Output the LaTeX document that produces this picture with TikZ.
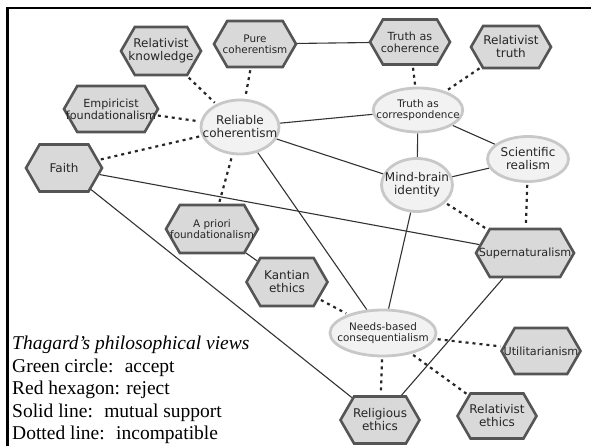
\documentclass[tikz,border=0pt]{standalone}
\usepackage{fontspec}
\setmainfont{Liberation Serif}
\newfontfamily\labelfont{DejaVu Sans}
\usetikzlibrary{shapes.geometric,shapes.symbols,backgrounds}
\definecolor{hexfill}{HTML}{D9D9D9}
\definecolor{hexline}{HTML}{555555}
\definecolor{ellfill}{HTML}{F2F2F2}
\definecolor{ellline}{HTML}{C8C8C8}
\tikzset{
  reject/.style={shape=signal,signal to=west and east,signal pointer angle=120,fill=hexfill,draw=hexline,line width=2.6pt,inner ysep=0pt,inner xsep=-12pt,align=center,text=black!85},
  accept/.style={ellipse,fill=ellfill,draw=ellline,line width=2.8pt,inner ysep=0pt,inner xsep=-10pt,align=center,text=black!85},
  big/.style={font=\labelfont\fontsize{12}{13}\selectfont},
  mid/.style={font=\labelfont\fontsize{11.2}{12.2}\selectfont},
  small/.style={font=\labelfont\fontsize{10.4}{11.4}\selectfont},
  support/.style={line width=1.1pt,draw=black!80},
  incompat/.style={line width=2.2pt,dash pattern=on 3pt off 4pt,draw=black!85,shorten <=2pt,shorten >=2pt}
}
\begin{document}
\begin{tikzpicture}[x=1pt,y=-1pt]
\useasboundingbox (0,0) rectangle (591,446);
%frame
\draw[line width=2.7pt] (7.3,446)--(7.3,8)--(591,8);
%rejected views
\node[reject,big,minimum width=80pt,minimum height=48pt] (rk) at (161,51) {Relativist\\knowledge};
\node[reject,small,minimum width=82pt,minimum height=46pt] (pc) at (255,44) {Pure\\coherentism};
\node[reject,mid,minimum width=80pt,minimum height=45pt] (tcoh) at (410,42) {Truth as\\coherence};
\node[reject,big,minimum width=80pt,minimum height=42pt] (rt) at (511,47) {Relativist\\truth};
\node[reject,mid,minimum width=94pt,minimum height=46pt] (ef) at (111,109) {Empiricist\\foundationalism};
\node[reject,big,minimum width=76pt,minimum height=47pt] (faith) at (64,168) {Faith};
\node[reject,small,minimum width=92pt,minimum height=48pt] (apf) at (212,229) {A priori\\foundationalism};
\node[reject,big,minimum width=81pt,minimum height=48pt] (ke) at (287,282) {Kantian\\ethics};
\node[reject,mid,minimum width=98pt,minimum height=48pt] (sup) at (525,253) {Supernaturalism};
\node[reject,mid,minimum width=79pt,minimum height=46pt] (util) at (541,351) {Utilitarianism};
\node[reject,big,minimum width=79pt,minimum height=47pt] (re) at (380,420) {Religious\\ethics};
\node[reject,big,minimum width=79pt,minimum height=45pt] (rele) at (497,416) {Relativist\\ethics};
%accepted views
\node[accept,big,minimum width=78pt,minimum height=54pt] (rc) at (240,127) {Reliable\\coherentism};
\node[accept,small,minimum width=89pt,minimum height=44pt] (tcor) at (418,110) {Truth as\\correspondence};
\node[accept,big,minimum width=81pt,minimum height=45pt] (sr) at (528,159) {Scientific\\realism};
\node[accept,big,minimum width=71pt,minimum height=53pt] (mb) at (417,185) {Mind-brain\\identity};
\node[accept,small,minimum width=106pt,minimum height=46pt] (nbc) at (383,333) {Needs-based\\consequentialism};
%links
\begin{scope}[on background layer]
\foreach \a/\b in {pc/tcoh,rc/tcor,rc/mb,rc/nbc,tcor/mb,tcor/sr,mb/sr,mb/nbc,faith/sup,faith/re,apf/ke,sup/re}
  {\draw[support] (\a)--(\b);}
\foreach \a/\b in {rk/rc,pc/rc,ef/rc,faith/rc,apf/rc,tcoh/tcor,rt/tcor,mb/sup,sr/sup,ke/nbc,nbc/util,nbc/re,nbc/rele}
  {\draw[incompat] (\a)--(\b);}
\end{scope}
%legend
\node[anchor=north west,inner sep=0pt,align=left,font=\fontsize{19.5}{22.5}\selectfont] (legend) at (12,336)
  {\textit{Thagard’s philosophical views}\\Green circle:~ accept\\Red hexagon: reject\\Solid line:~ mutual support\\Dotted line:~ incompatible};
\end{tikzpicture}
\end{document}
